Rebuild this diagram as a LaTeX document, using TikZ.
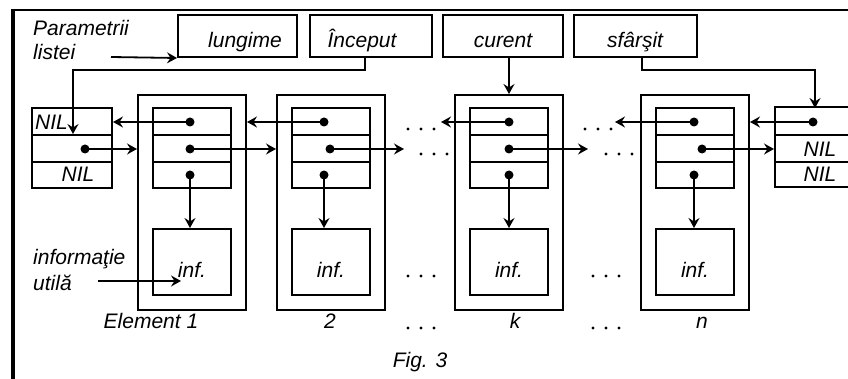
\documentclass[tikz,border=0pt]{standalone}
\usepackage{fontspec}
\setmainfont{Liberation Sans}
\usetikzlibrary{arrows.meta}
\begin{document}
\begin{tikzpicture}[x=1pt,y=-1pt,
  box/.style={draw,line width=2pt,rectangle,inner sep=0pt,minimum width=#1},
  txt/.style={font=\fontsize{21}{25}\selectfont\itshape,inner sep=0pt},
  ptr/.style={line width=1.8pt,-{Stealth[length=10pt,width=11pt,inset=3.5pt]}},
  sep/.style={line width=2pt}]
\useasboundingbox (0,0) rectangle (848,379);
\fill[white] (0,0) rectangle (848,379);
\clip (0,0) rectangle (848,379);

% outer frame
\draw[line width=2pt] (13,10) -- (850,10);
\draw[line width=4.5pt] (13,9) -- (13,385);

% list parameters
\node[box=119pt,minimum height=42pt] (lung) at (237.5,36) {};
\node[box=122pt,minimum height=42pt] (inc)  at (371,36) {};
\node[box=120pt,minimum height=42pt] (cur)  at (503,36) {};
\node[box=123pt,minimum height=42pt] (sfa)  at (635.5,36) {};
\node[txt,anchor=base] (tlung) at (245,48) {lungime};
\node[txt,anchor=base] (tinc)  at (362,48) {Început};
\node[txt,anchor=base] (tcur)  at (503,48) {curent};
\node[txt,anchor=base] (tsfa)  at (635,48) {sfârşit};
\node[txt,anchor=base west] (par1) at (33,36) {Parametrii};
\node[txt,anchor=base west] (par2) at (33,60) {listei};
\coordinate (parStart) at (111,57);
\draw[ptr] (parStart) -- (lung.south west);

% head and tail sentinel boxes
\node[box=80pt,minimum height=80pt] (nilL) at (72,148) {};
\node[box=90pt,minimum height=80pt] (nilR) at (820,147.5) {};
\foreach \b in {nilL,nilR}{
  \draw[sep] (\b.west |- 0,135) -- (\b.east |- 0,135);
  \draw[sep] (\b.west |- 0,162) -- (\b.east |- 0,162);
}
\node[txt,anchor=base west] (nilL1) at (35,130) {NIL};
\node[txt,anchor=base] (nilL3) at (78,182) {NIL};
\node[txt,anchor=base] (nilR2) at (820,157) {NIL};
\node[txt,anchor=base] (nilR3) at (820,182) {NIL};

% list elements: outer frame, pointer cells, information cell
\foreach \n/\x in {e1/192,e2/331,ek/509,en/695}{
  \node[box=108pt,minimum height=215pt] (\n) at (\x,202.5) {};
  \node[box=78pt,minimum height=80pt] (\n p) at (\x,148) {};
  \draw[sep] (\n p.west |- 0,135) -- (\n p.east |- 0,135);
  \draw[sep] (\n p.west |- 0,162) -- (\n p.east |- 0,162);
  \node[box=78pt,minimum height=66pt] (\n i) at (\x,262) {};
  \node[txt,anchor=base] (\n t) at (\x,277) {inf.};
}

% pointer origins
\coordinate (d1a) at (190,122); \coordinate (d1b) at (190,149); \coordinate (d1c) at (190,175);
\coordinate (d2a) at (324,122); \coordinate (d2b) at (330,149); \coordinate (d2c) at (324,175);
\coordinate (dka) at (509,122); \coordinate (dkb) at (509,149); \coordinate (dkc) at (509,175);
\coordinate (dna) at (694,122); \coordinate (dnb) at (702,149); \coordinate (dnc) at (694,175);
\coordinate (dLb) at (85,149);
\coordinate (dRa) at (813,122);
\foreach \d in {d1a,d1b,d1c,d2a,d2b,d2c,dka,dkb,dkc,dna,dnb,dnc,dLb,dRa}
  \fill (\d) circle[radius=4.5pt];

% backward links
\draw[ptr] (d1a) -- (d1a -| nilL.east);
\draw[ptr] (d2a) -- (d2a -| e1.east);
\draw[ptr] (dka) -- ([xshift=-13pt]dka -| ek.west);
\draw[ptr] (dna) -- ([xshift=-25pt]dna -| en.west);
\draw[ptr] (dRa) -- (dRa -| en.east);
% forward links
\draw[ptr] (dLb) -- (dLb -| e1.west);
\draw[ptr] (d1b) -- (d1b -| e2.west);
\draw[ptr] (d2b) -- ([xshift=18pt]d2b -| e2.east);
\draw[ptr] (dkb) -- ([xshift=24pt]dkb -| ek.east);
\draw[ptr] (dnb) -- (dnb -| nilR.west);
% links to the information cells
\foreach \n in {1,2,k,n}
  \draw[ptr] (d\n c) -- (d\n c |- e\n i.north);

% parameter pointers
\coordinate (nilIn) at (73,134);
\coordinate (rIn) at (815,108);
\draw[ptr] ([xshift=-6pt]inc.south) -- ++(0,12) -| (nilIn);
\draw[ptr] ([xshift=6.5pt]sfa.south) -- ++(0,12) -| (rIn);
\draw[ptr] (cur.south -| ek.north) -- (ek.north);

% useful information label
\node[txt,anchor=base west] (inf1) at (33,265) {informaţie};
\node[txt,anchor=base west] (inf2) at (33,290) {utilă};
\coordinate (infStart) at (98,281);
\coordinate (infEnd) at (181,281);
\draw[ptr] (infStart) -- (infEnd);

% ellipses
\foreach \x/\y in {408/129,421/154,585/129,606/154,408/276,593/276,408/328,593/328}
  \foreach \k in {0,1,2}
    \fill (\x+13*\k,\y) circle[radius=1.6pt];

% element captions
\node[txt,anchor=base] (c1) at (151,328) {Element 1};
\node[txt,anchor=base] (c2) at (330,328) {2};
\node[txt,anchor=base] (ck) at (515,328) {k};
\node[txt,anchor=base] (cn) at (702,328) {n};
\node[txt,anchor=base] (fig) at (420,367) {Fig. 3};
\end{tikzpicture}
\end{document}
